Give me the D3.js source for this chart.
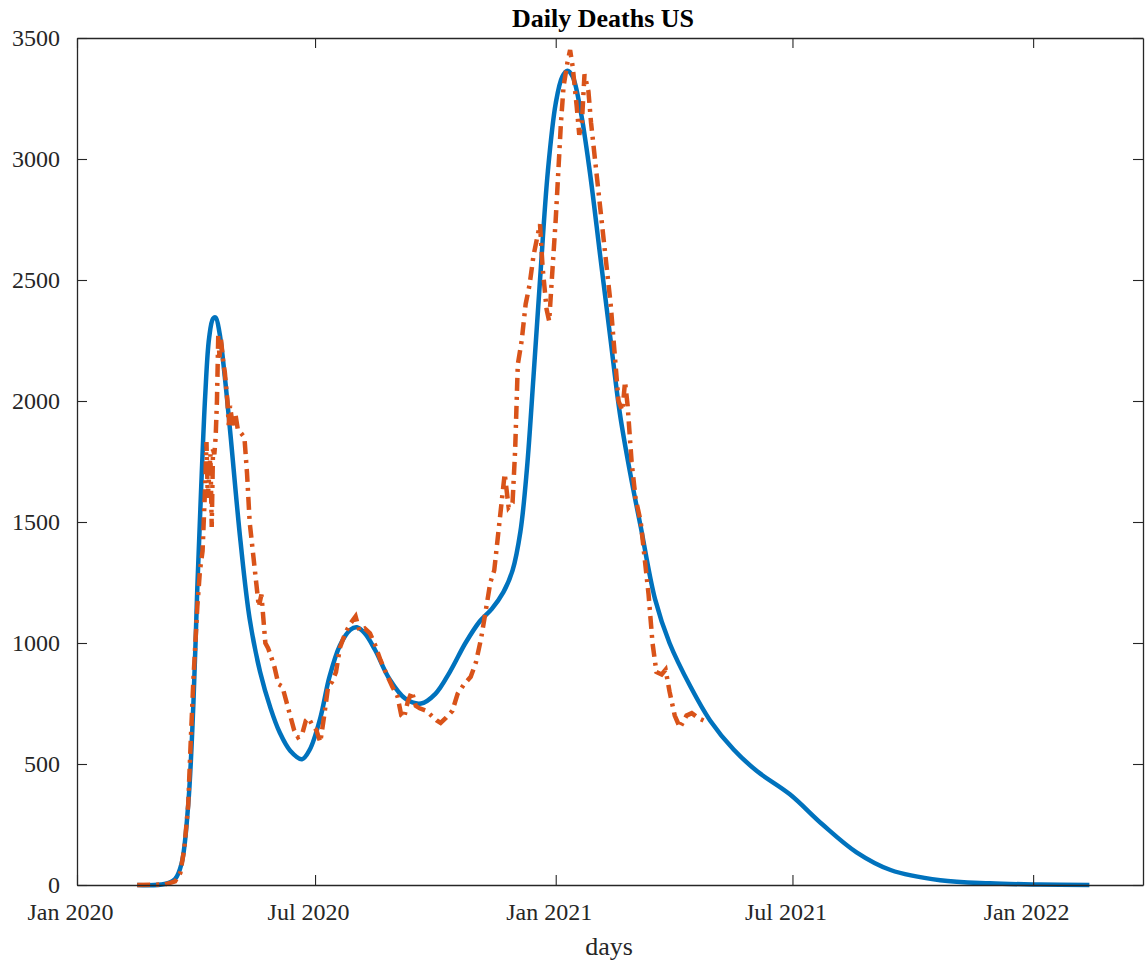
<!DOCTYPE html>
<html>
<head>
<meta charset="utf-8">
<script src="https://cdn.jsdelivr.net/npm/d3@7"></script>
<style>
  body { margin: 0; background: #fff; }
  svg { display: block; }
</style>
</head>
<body>
<svg></svg>
<script>
// Canvas
const width = 1145;
const height = 964;
const margin = { top: 38, right: 2, bottom: 79, left: 77 };

// Day offsets counted from 1 Jan 2020
const startDate = new Date(2020, 0, 1);

// Model curve (solid blue): [day, deaths]
const modelDeaths = [
  [46, 0], [67, 4], [75, 25], [80, 90], [85, 330], [89, 750], [92, 1230],
  [95, 1650], [98, 2020], [101, 2260], [104, 2340], [106, 2345], [109, 2280],
  [113, 2100], [117, 1880], [125, 1420], [132, 1100], [140, 880], [148, 730],
  [155, 630], [163, 555], [172, 520], [178, 560], [186, 690], [193, 860],
  [201, 990], [209, 1055], [214, 1065], [220, 1040], [228, 970], [239, 850],
  [251, 770], [263, 750], [274, 790], [285, 880], [297, 1000], [308, 1090],
  [317, 1140], [326, 1210], [333, 1300], [339, 1460], [344, 1720], [349, 2100],
  [354, 2500], [360, 2950], [366, 3230], [371, 3340], [375, 3365], [379, 3340],
  [385, 3200], [392, 2950], [400, 2600], [408, 2250], [415, 1950], [423, 1700],
  [431, 1480], [442, 1180], [453, 1000], [469, 820], [484, 680], [502, 560],
  [520, 470], [545, 375], [570, 250], [596, 135], [622, 62], [660, 20],
  [698, 7], [736, 2], [774, 0]
];

// Reported data (dash-dot orange): [day, deaths]
const reportedDeaths = [
  [46, 0], [67, 2], [75, 15], [79, 50], [82, 150], [85, 330], [87, 600],
  [89, 850], [92, 1150], [94, 1300], [96, 1380], [98, 1650], [99, 1830],
  [100, 1600], [102, 1780], [103, 1480], [104, 1800], [105, 1780], [106, 1850],
  [107, 2000], [108, 2270], [109, 2180], [110, 2260], [112, 2150], [113, 2120],
  [115, 2000], [116, 1900], [117, 1980], [119, 1900], [121, 1950], [123, 1880],
  [125, 1870], [128, 1850], [130, 1700], [132, 1500], [135, 1350], [137, 1250],
  [139, 1150], [141, 1200], [144, 1000], [146, 980], [148, 950], [151, 900],
  [154, 830], [157, 820], [160, 760], [163, 700], [166, 640], [169, 610],
  [172, 620], [175, 680], [177, 690], [180, 660], [183, 640], [186, 590],
  [189, 700], [192, 820], [195, 840], [198, 880], [201, 980], [205, 1040],
  [209, 1080], [213, 1110], [216, 1050], [220, 1060], [224, 1040], [228, 990],
  [232, 930], [236, 880], [241, 820], [245, 780], [248, 700], [250, 690],
  [253, 760], [256, 800], [259, 740], [262, 730], [267, 720], [271, 700],
  [275, 680], [278, 670], [282, 690], [287, 720], [291, 790], [296, 830],
  [301, 860], [305, 920], [309, 1020], [313, 1150], [316, 1250], [319, 1300],
  [322, 1450], [325, 1600], [327, 1700], [330, 1560], [333, 1580], [335, 1800],
  [337, 2150], [340, 2250], [343, 2400], [346, 2480], [349, 2600], [352, 2680],
  [354, 2730], [356, 2550], [359, 2380], [361, 2330], [363, 2500], [366, 2750],
  [368, 2950], [370, 3150], [372, 3300], [375, 3400], [377, 3450], [379, 3380],
  [382, 3220], [384, 3100], [386, 3150], [388, 3350], [391, 3280], [393, 3150],
  [396, 3000], [400, 2800], [404, 2600], [408, 2400], [411, 2200], [414, 2000],
  [417, 1960], [419, 2080], [421, 1980], [424, 1750], [427, 1600], [431, 1500],
  [434, 1350], [437, 1200], [440, 1000], [443, 880], [447, 870], [450, 890],
  [453, 800], [457, 700], [461, 650], [466, 700], [470, 710], [475, 690],
  [479, 680]
];

const xTickDates = ["2020-01-01", "2020-07-01", "2021-01-01", "2021-07-01", "2022-01-01"];
const yTicks = [0, 500, 1000, 1500, 2000, 2500, 3000, 3500];

const toDate = d => d3.timeDay.offset(startDate, d);
const parse = d3.timeParse("%Y-%m-%d");
const serif = "'Liberation Serif', 'Times New Roman', serif";

const svg = d3.select("svg")
    .attr("width", width)
    .attr("height", height)
    .style("font-family", serif);

const xScale = d3.scaleTime()
    .domain([startDate, parse("2022-03-26")])
    .range([margin.left, width - margin.right]);

const yScale = d3.scaleLinear()
    .domain([0, 3500])
    .range([height - margin.bottom, margin.top]);

const axisColor = "#262626";
const tickLen = 10;

// Lines
const line = d3.line()
    .x(d => xScale(toDate(d[0])))
    .y(d => yScale(d[1]));

svg.append("path")
    .datum(modelDeaths)
    .attr("fill", "none")
    .attr("stroke", "#0072BD")
    .attr("stroke-width", 4.5)
    .attr("stroke-linejoin", "round")
    .attr("d", line.curve(d3.curveCatmullRom.alpha(0.5)));

svg.append("path")
    .datum(reportedDeaths)
    .attr("fill", "none")
    .attr("stroke", "#D95319")
    .attr("stroke-width", 4.5)
    .attr("stroke-dasharray", "13,6,3,6")
    .attr("d", line.curve(d3.curveLinear));

// Axes (MATLAB-like box, ticks pointing inward)
const xAxis = d3.axisBottom(xScale)
    .tickValues(xTickDates.map(parse))
    .tickFormat(d3.timeFormat("%b %Y"))
    .tickSizeInner(-tickLen).tickSizeOuter(0).tickPadding(18);

const yAxis = d3.axisLeft(yScale)
    .tickValues(yTicks)
    .tickFormat(d3.format("d"))
    .tickSizeInner(-tickLen).tickSizeOuter(0).tickPadding(17);

const gx = svg.append("g")
    .attr("transform", `translate(0, ${height - margin.bottom})`)
    .call(xAxis);

gx.selectAll(".tick text").attr("dx", -7);

const gy = svg.append("g")
    .attr("transform", `translate(${margin.left}, 0)`)
    .call(yAxis);

const gxTop = svg.append("g")
    .attr("transform", `translate(0, ${margin.top})`)
    .call(d3.axisTop(xScale).tickValues(xTickDates.map(parse)).tickFormat("")
        .tickSizeInner(-tickLen).tickSizeOuter(0));

const gyRight = svg.append("g")
    .attr("transform", `translate(${width - margin.right}, 0)`)
    .call(d3.axisRight(yScale).tickValues(yTicks).tickFormat("")
        .tickSizeInner(-tickLen).tickSizeOuter(0));

[gx, gy, gxTop, gyRight].forEach(g => {
    g.select(".domain").attr("stroke", axisColor).attr("stroke-width", 1.3);
    g.selectAll(".tick line").attr("stroke", axisColor).attr("stroke-width", 1.1);
    g.selectAll("text")
        .attr("fill", axisColor)
        .style("font-family", serif)
        .style("font-size", "24px");
});

// Titles
svg.append("text")
    .attr("x", 603)
    .attr("y", 27)
    .attr("text-anchor", "middle")
    .attr("fill", "#000")
    .style("font-size", "26px")
    .style("font-weight", "bold")
    .text("Daily Deaths US");

svg.append("text")
    .attr("x", 609)
    .attr("y", 955)
    .attr("text-anchor", "middle")
    .attr("fill", axisColor)
    .style("font-size", "26px")
    .text("days");
</script>
</body>
</html>
